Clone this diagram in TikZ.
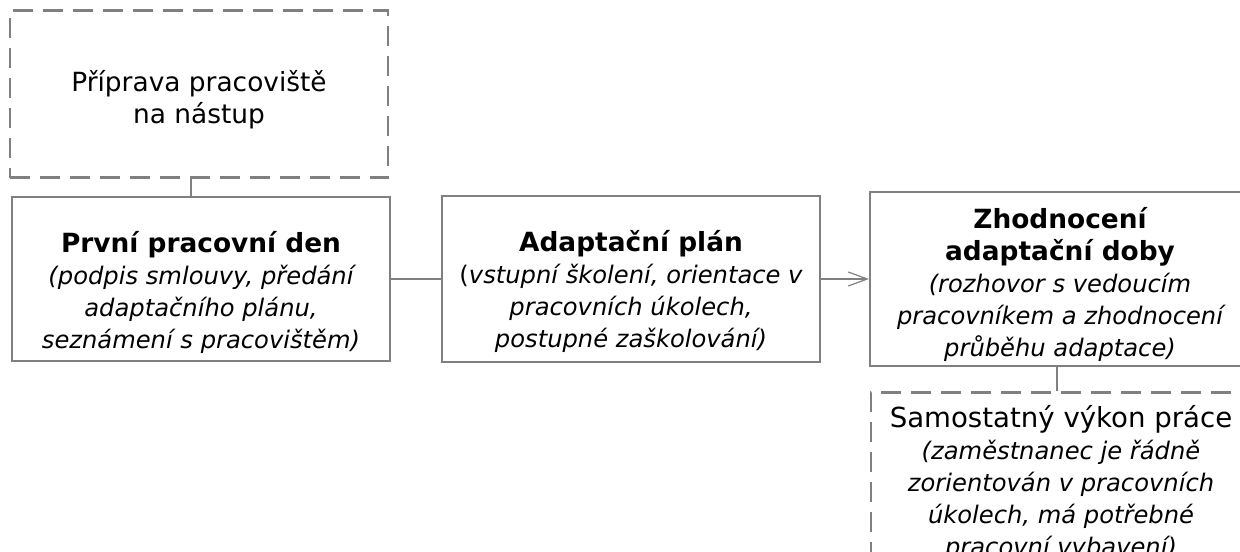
\documentclass[tikz,border=0pt]{standalone}
\usepackage{fontspec}
\setmainfont{DejaVu Sans}
\usetikzlibrary{positioning,arrows.meta}

\definecolor{linegray}{RGB}{128,128,128}
\newcommand{\hd}[1]{{\fontsize{13.2}{16}\selectfont\bfseries #1}}
\newcommand{\nt}[1]{{\fontsize{12.1}{16}\selectfont\itshape #1}}

\begin{document}
\begin{tikzpicture}[
    x=0.5pt, y=-0.5pt,
    font=\fontsize{13.2}{16}\selectfont,
    stepbox/.style={rectangle, draw=linegray, line width=1pt, fill=white, minimum width=189pt, inner sep=0pt},
    optbox/.style={stepbox, dash pattern=on 10pt off 5pt, line width=1.3pt},
    boxtext/.style={align=center, inner sep=0pt},
    link/.style={draw=linegray, line width=0.7pt},
    arrow/.style={link, -{Straight Barb[length=9.5pt, width=7pt, line width=0.6pt]}}
]
\useasboundingbox (0,0) rectangle (1240,551);
\clip (0,0) rectangle (1240,551);

% Main row
\node[stepbox, minimum height=82pt] (den) at (201,279) {};
\node[stepbox, minimum height=83pt, right=25pt of den] (plan) {};
\node[stepbox, minimum height=87pt, minimum width=190pt, right=24pt of plan] (zhodnoceni) {};

% Optional steps (dashed)
\node[optbox, minimum height=83.5pt, above=8.5pt of den, xshift=-1pt] (priprava) {};
\node[optbox, minimum height=100pt, minimum width=190pt, below=12pt of zhodnoceni, xshift=0.5pt, anchor=north] (vykon) {};

% Texts
\node[boxtext] (den-text) at ([yshift=-6.5pt]den.center)
    {\hd{První pracovní den}\\\nt{(podpis smlouvy, předání}\\\nt{adaptačního plánu,}\\\nt{seznámení s pracovištěm)}};
\node[boxtext] (plan-text) at ([yshift=-6pt]plan.center)
    {\hd{Adaptační plán}\\{\fontsize{12.1}{16}\selectfont(}\nt{vstupní školení, orientace v}\\\nt{pracovních úkolech,}\\\nt{postupné zaškolování)}};
\node[boxtext] (zhodnoceni-text) at ([yshift=-2.5pt]zhodnoceni.center)
    {\hd{Zhodnocení}\\\hd{adaptační doby}\\\nt{(rozhovor s vedoucím}\\\nt{pracovníkem a zhodnocení}\\\nt{průběhu adaptace)}};
\node[boxtext] (priprava-text) at ([yshift=-2.5pt]priprava.center)
    {Příprava pracoviště\\na nástup};
\node[boxtext, anchor=north] (vykon-text) at ([yshift=-7pt]vykon.north)
    {{\fontsize{13.8}{16}\selectfont Samostatný výkon práce}\\\nt{(zaměstnanec je řádně}\\\nt{zorientován v pracovních}\\\nt{úkolech, má potřebné}\\\nt{pracovní vybavení)}};

% Connectors
\draw[link] (priprava.south -| 191,0) -- (den.north -| 191,0);
\draw[link] (den) -- (plan);
\draw[arrow] (plan) -- (zhodnoceni);
\draw[link] (zhodnoceni.south -| 1057,0) -- (vykon.north -| 1057,0);

\end{tikzpicture}
\end{document}
